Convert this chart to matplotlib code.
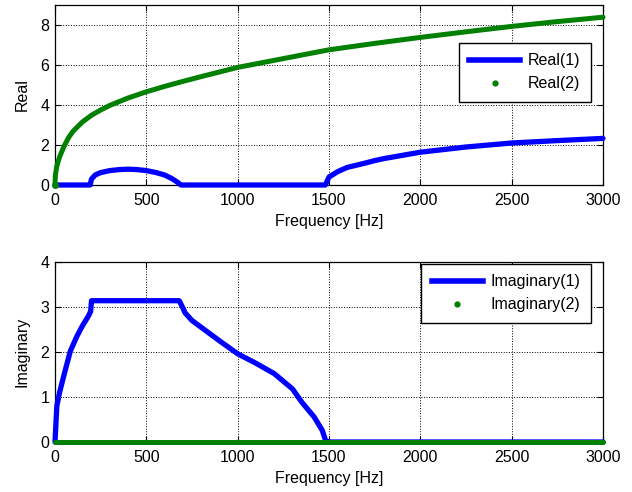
"""Real and imaginary parts of two propagation branches versus frequency."""

import matplotlib.pyplot as plt
from matplotlib.lines import Line2D

plt.rcParams["font.family"] = ["Liberation Sans", "DejaVu Sans"]
plt.rcParams["font.size"] = 11.5

BLUE = "#0000ff"
GREEN = "#008000"

# values
real1_freq = [0, 192, 200, 220, 250, 300, 350, 400, 450, 500, 550, 600, 640, 670, 690,
              1480, 1490, 1500, 1550, 1600, 1700, 1750, 1800, 2000, 2250, 2500, 2750, 3000]
real1_vals = [0.0, 0.0, 0.3, 0.5, 0.62, 0.72, 0.77, 0.79, 0.77, 0.72, 0.63, 0.5, 0.32, 0.14, 0.0,
              0.0, 0.2, 0.4, 0.68, 0.88, 1.1, 1.22, 1.32, 1.64, 1.9, 2.1, 2.22, 2.33]

real2_freq = [0, 2, 10, 25, 50, 75, 100, 150, 200, 250, 300, 400, 500, 600, 700, 800, 900,
              1000, 1250, 1500, 1750, 2000, 2250, 2500, 2750, 3000]
real2_vals = [0.0, 0.5, 0.95, 1.4, 1.95, 2.38, 2.7, 3.15, 3.49, 3.75, 3.98, 4.35, 4.66, 4.93, 5.18,
              5.42, 5.65, 5.88, 6.32, 6.76, 7.08, 7.38, 7.66, 7.93, 8.17, 8.39]

imag1_freq = [0, 10, 25, 50, 84, 120, 150, 183, 195, 200, 680, 700, 712, 750, 800, 900, 1000,
              1100, 1200, 1300, 1352, 1418, 1463, 1480, 1490, 3000]
imag1_vals = [0.0, 0.8, 1.1, 1.5, 2.02, 2.35, 2.58, 2.8, 2.9, 3.14, 3.14, 2.98, 2.87, 2.7, 2.55,
              2.25, 1.96, 1.75, 1.52, 1.18, 0.88, 0.56, 0.26, 0.05, 0.0, 0.0]

imag2_freq = [0, 3000]
imag2_vals = [0.0, 0.0]


def style_axes(ax, ymax, yticks):
    ax.set_xlim(0, 3000)
    ax.set_ylim(0, ymax)
    ax.set_xticks([0, 500, 1000, 1500, 2000, 2500, 3000])
    ax.set_yticks(yticks)
    ax.grid(True, linestyle=":", color="black", linewidth=0.7)
    ax.tick_params(direction="in", top=True, right=True, length=4, width=0.8)
    ax.tick_params(axis="x", pad=6)
    ax.tick_params(axis="y", pad=4)
    for spine in ax.spines.values():
        spine.set_linewidth(0.9)
        spine.set_color("black")
    ax.set_xlabel("Frequency [Hz]", labelpad=4)


fig = plt.figure(figsize=(6.32, 4.92), dpi=100)
ax_top = fig.add_axes([55 / 632, 1 - 185 / 492, 548 / 632, 180 / 492])
ax_bot = fig.add_axes([55 / 632, 1 - 442 / 492, 548 / 632, 180 / 492])

ax_top.plot(real1_freq, real1_vals, color=BLUE, linewidth=3.8, solid_capstyle="round",
            zorder=3, clip_on=False)
ax_top.plot(real2_freq, real2_vals, color=GREEN, linewidth=3.6, solid_capstyle="round",
            zorder=3, clip_on=False)
ax_top.plot([0], [0], ".", color=GREEN, markersize=8, zorder=4, clip_on=False)
style_axes(ax_top, 9, [0, 2, 4, 6, 8])
ax_top.set_ylabel("Real", labelpad=8)

ax_bot.plot(imag1_freq, imag1_vals, color=BLUE, linewidth=3.8, solid_capstyle="round",
            zorder=3, clip_on=False)
ax_bot.plot(imag2_freq, imag2_vals, color=GREEN, linewidth=3.6, solid_capstyle="round",
            zorder=4, clip_on=False)
style_axes(ax_bot, 4, [0, 1, 2, 3, 4])
ax_bot.set_ylabel("Imaginary", labelpad=8)

for ax, names, anchor in [
    (ax_top, ["Real(1)", "Real(2)"], (0.978, 0.789)),
    (ax_bot, ["Imaginary(1)", "Imaginary(2)"], (0.978, 0.989)),
]:
    handles = [
        Line2D([], [], color=BLUE, linewidth=4),
        Line2D([], [], color=GREEN, linestyle="none", marker=".", markersize=7),
    ]
    leg = ax.legend(handles, names, loc="upper right", bbox_to_anchor=anchor,
                    fancybox=False, framealpha=1, edgecolor="black",
                    handlelength=3.2, borderaxespad=0, borderpad=0.65,
                    labelspacing=0.5, handletextpad=0.5)
    leg.get_frame().set_linewidth(1.0)
    leg.set_zorder(5)

fig.savefig("out.png", dpi=100)
